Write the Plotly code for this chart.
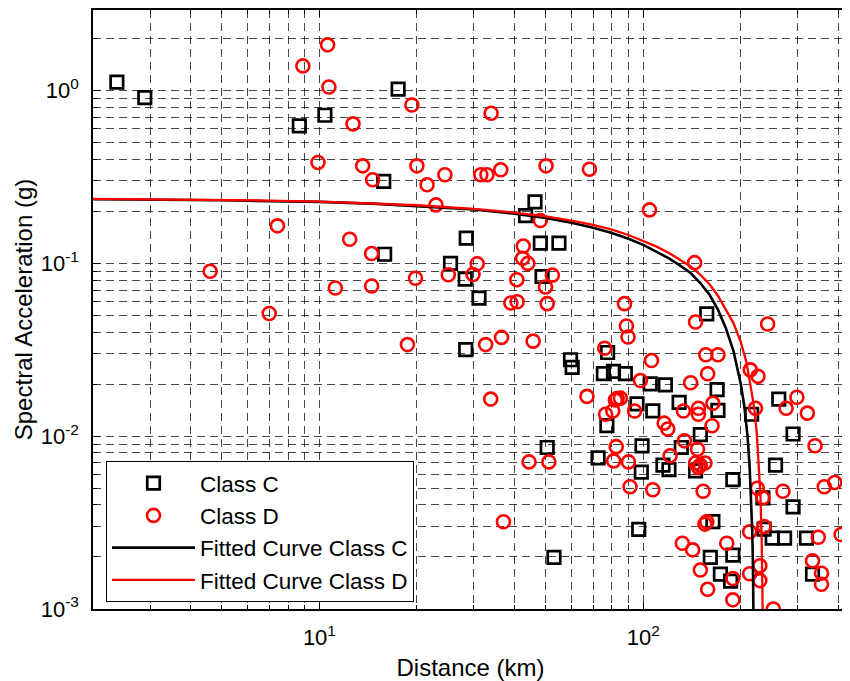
import math
import plotly.graph_objects as go

# ---- data ----
class_c_dist = [2.37, 2.89, 8.67, 10.4, 17.5, 15.8, 15.9, 25.4, 28.4, 28.2, 31.1, 28.3,
                46.3, 43.3, 48.1, 54.9, 48.7, 157, 59.6, 60.3, 77.6, 75.3, 80.9, 88.0,
                77.2, 95.6, 107, 105, 117, 129, 169, 170, 150, 131, 99.1, 98.6, 115, 120,
                145, 50.5, 72.5, 189, 262, 290, 256, 216, 234, 290, 96.8, 53, 164, 236,
                250, 273, 319, 161, 189, 173, 186, 333]
class_c_sa = [1.12, 0.91, 0.625, 0.72, 1.02, 0.298, 0.113, 0.100, 0.140, 0.081, 0.063, 0.0317,
              0.227, 0.189, 0.131, 0.131, 0.084, 0.051, 0.0277, 0.0250, 0.0305, 0.0230, 0.0237, 0.0230,
              0.0115, 0.0154, 0.0140, 0.0201, 0.0198, 0.0157, 0.0186, 0.0141, 0.0102, 0.0086, 0.0088,
              0.0062, 0.0068, 0.0064, 0.0063, 0.0086, 0.0075, 0.0056, 0.0164, 0.0103, 0.0068, 0.0134,
              0.0044, 0.0039, 0.00289, 0.00199, 0.0032, 0.0029, 0.00257, 0.00257, 0.00257, 0.00199,
              0.00205, 0.00159, 0.00145, 0.00159]

class_d_dist = [10.6, 8.89, 10.7, 19.3, 12.7, 9.9, 13.6, 14.6, 20.0, 21.5, 24.4, 22.9,
                7.42, 12.4, 14.5, 4.6, 11.2, 14.5, 19.8, 25.0, 7.0, 18.7, 33.9, 31.5,
                32.9, 36.3, 50.1, 68.2, 104.5, 48.1, 42.6, 42.4, 44.0, 30.7, 29.8, 40.7,
                49.9, 52.4, 39.0, 40.8, 50.5, 87.5, 144, 88.7, 89.7, 32.6, 36.5, 45.7,
                145, 242, 76, 106, 156, 170, 158, 140, 164, 163, 148, 148,
                133, 134, 147, 145, 150, 155, 148, 153, 121, 116, 119, 98,
                83, 85, 82, 76.5, 80.5, 94, 67, 33.8, 82.5, 81, 90, 44.4,
                51.1, 91, 107, 37, 157, 155, 132, 142, 181, 150, 158, 189,
                189, 214, 226, 222, 276, 298, 321, 339, 362, 390, 270, 225,
                234, 236, 213, 347, 408, 333, 355, 355, 229, 229, 213, 252]
class_d_sa = [1.84, 1.39, 1.05, 0.826, 0.642, 0.384, 0.367, 0.305, 0.367, 0.285, 0.326, 0.218,
              0.165, 0.138, 0.114, 0.090, 0.072, 0.074, 0.082, 0.086, 0.0513, 0.0339, 0.740, 0.326,
              0.326, 0.348, 0.367, 0.351, 0.204, 0.177, 0.126, 0.107, 0.100, 0.0995, 0.0862, 0.0805,
              0.073, 0.0855, 0.059, 0.060, 0.0585, 0.0585, 0.101, 0.0434, 0.0375, 0.0339, 0.0373, 0.0355,
              0.0458, 0.0446, 0.0323, 0.0274, 0.0296, 0.0296, 0.023, 0.0204, 0.0155, 0.0115, 0.0145, 0.0134,
              0.014, 0.0094, 0.0084, 0.0070, 0.0068, 0.0070, 0.0066, 0.0048, 0.0077, 0.0119, 0.011, 0.021,
              0.0165, 0.0166, 0.0162, 0.0134, 0.014, 0.014, 0.017, 0.0164, 0.0087, 0.0072, 0.0071, 0.0071,
              0.0071, 0.0051, 0.0049, 0.0032, 0.0032, 0.0031, 0.0024, 0.0022, 0.0024, 0.00168, 0.0013, 0.0015,
              0.00113, 0.0242, 0.0222, 0.0145, 0.0145, 0.0168, 0.0136, 0.0088, 0.0051, 0.0054, 0.0048, 0.0050,
              0.0044, 0.0030, 0.0028, 0.0026, 0.0027, 0.0019, 0.00161, 0.00139, 0.00178, 0.00146, 0.0016, 0.0010]

fit_c_dist = [2, 3, 5, 7, 10, 15, 20, 30, 40, 50, 60, 70, 80, 90, 100, 110, 120, 130, 140, 150,
              160, 170, 180, 190, 200, 205, 210, 213, 215, 217, 218, 218.6, 219]
fit_c_sa = [0.235, 0.234, 0.232, 0.229, 0.227, 0.221, 0.215, 0.205, 0.194, 0.183, 0.172, 0.161,
            0.150, 0.139, 0.128, 0.117, 0.107, 0.097, 0.088, 0.077, 0.066, 0.054, 0.042, 0.031,
            0.020, 0.015, 0.0098, 0.0066, 0.0045, 0.0028, 0.0018, 0.0012, 0.0008]

fit_d_dist = [2, 3, 5, 7, 10, 15, 20, 30, 40, 50, 60, 70, 80, 90, 100, 110, 120, 130, 140, 150,
              160, 170, 180, 190, 200, 208, 216, 220, 224, 228, 230, 232, 233, 234]
fit_d_sa = [0.236, 0.235, 0.233, 0.231, 0.228, 0.222, 0.217, 0.207, 0.197, 0.187, 0.177, 0.167,
            0.157, 0.146, 0.135, 0.125, 0.115, 0.105, 0.096, 0.086, 0.076, 0.065, 0.054, 0.045,
            0.035, 0.027, 0.018, 0.0145, 0.0105, 0.0065, 0.0045, 0.0025, 0.0016, 0.0008]

x_tick_vals = [10, 100]
x_tick_text = ["10<sup>1</sup>", "10<sup>2</sup>"]
y_tick_vals = [0.001, 0.01, 0.1, 1]
y_tick_text = ["10<sup>-3</sup>", "10<sup>-2</sup>", "10<sup>-1</sup>", "10<sup>0</sup>"]

x_minor = [m * 10 ** e for e in (0, 1, 2) for m in range(2, 10)]
y_minor = [m * 10 ** e for e in (-3, -2, -1, 0) for m in range(2, 10)]

FONT = "Liberation Sans, Arial, Helvetica, sans-serif"
GRID = "rgba(0,0,0,0.72)"
DASH = "8px,5px"

fig = go.Figure()
fig.add_trace(go.Scatter(x=class_c_dist, y=class_c_sa, mode="markers", name="Class C",
                         marker=dict(symbol="square-open", size=12.5, color="black",
                                     line=dict(width=2.7, color="black"))))
fig.add_trace(go.Scatter(x=class_d_dist, y=class_d_sa, mode="markers", name="Class D",
                         marker=dict(symbol="circle-open", size=13, color="red",
                                     line=dict(width=2.6, color="red"))))
fig.add_trace(go.Scatter(x=fit_c_dist, y=fit_c_sa, mode="lines", name="Fitted Curve Class C",
                         line=dict(color="black", width=2.6)))
fig.add_trace(go.Scatter(x=fit_d_dist, y=fit_d_sa, mode="lines", name="Fitted Curve Class D",
                         line=dict(color="red", width=2.3)))

axis_common = dict(
    type="log", showline=True, linecolor="black", linewidth=1.5, mirror="allticks",
    ticks="inside", ticklen=7, tickwidth=1, tickcolor="black",
    showgrid=True, gridcolor=GRID, gridwidth=1, griddash=DASH, zeroline=False,
    tickfont=dict(size=22, family=FONT, color="black"), ticklabelstandoff=8,
)

fig.update_xaxes(**axis_common, range=[math.log10(2), 2.632], tickmode="array",
                 tickvals=x_tick_vals, ticktext=x_tick_text,
                 minor=dict(tickmode="array", tickvals=x_minor, ticks="inside", ticklen=4,
                            tickcolor="black", showgrid=True, gridcolor=GRID, griddash=DASH),
                 title=dict(text="Distance (km)", font=dict(size=24, family=FONT), standoff=10))
fig.update_yaxes(**axis_common, range=[-3, 0.4665], tickmode="array",
                 tickvals=y_tick_vals, ticktext=y_tick_text,
                 minor=dict(tickmode="array", tickvals=y_minor, ticks="inside", ticklen=4,
                            tickcolor="black", showgrid=True, gridcolor=GRID, griddash=DASH),
                 title=dict(text="Spectral Acceleration (g)", font=dict(size=24, family=FONT), standoff=1))

# page body has an 8px default margin, so the figure is offset by 8px
fig.update_layout(
    width=842, height=673,
    margin=dict(l=85, r=0, t=2, b=72),
    plot_bgcolor="white", paper_bgcolor="white",
    font=dict(family=FONT, color="black"),
    showlegend=True,
    legend=dict(x=0.0172, y=0.247, xanchor="left", yanchor="top",
                bgcolor="white", bordercolor="black", borderwidth=1,
                font=dict(size=22.5, family=FONT), itemwidth=83, tracegroupgap=0),
)

fig.write_html("out.html")
